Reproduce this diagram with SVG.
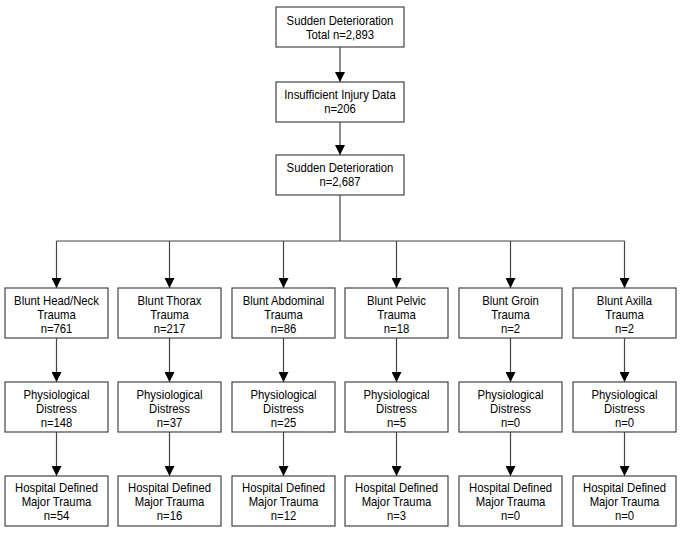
<svg xmlns="http://www.w3.org/2000/svg" width="685" height="534" viewBox="0 0 685 534">
<defs>
<marker id="ah" markerWidth="10" markerHeight="10" refX="10" refY="5" orient="auto" markerUnits="userSpaceOnUse">
<path d="M0,0 L10,5 L0,10 Z" fill="#000"/>
</marker>
<style>
.b{fill:#fff;stroke:#444;stroke-width:1.2}
.t{font-family:"Liberation Sans",Arial,sans-serif;font-size:13px;fill:#000;text-anchor:middle}
.c{fill:none;stroke:#444;stroke-width:1.2}
.a{marker-end:url(#ah)}
</style>
</defs>
<rect width="685" height="534" fill="#fff"/>
<g id="connectors">
<line class="c a" x1="340" y1="47" x2="340" y2="82"/>
<line class="c a" x1="340" y1="122" x2="340" y2="155"/>
<polyline class="c" points="340,195 340,241"/>
<line class="c" x1="56.5" y1="241" x2="624.5" y2="241"/>
<line class="c a" x1="56.5" y1="241" x2="56.5" y2="288"/>
<line class="c a" x1="169.5" y1="241" x2="169.5" y2="288"/>
<line class="c a" x1="283.5" y1="241" x2="283.5" y2="288"/>
<line class="c a" x1="396.5" y1="241" x2="396.5" y2="288"/>
<line class="c a" x1="510.5" y1="241" x2="510.5" y2="288"/>
<line class="c a" x1="624.5" y1="241" x2="624.5" y2="288"/>
<line class="c a" x1="56.5" y1="338" x2="56.5" y2="382"/>
<line class="c a" x1="169.5" y1="338" x2="169.5" y2="382"/>
<line class="c a" x1="283.5" y1="338" x2="283.5" y2="382"/>
<line class="c a" x1="396.5" y1="338" x2="396.5" y2="382"/>
<line class="c a" x1="510.5" y1="338" x2="510.5" y2="382"/>
<line class="c a" x1="624.5" y1="338" x2="624.5" y2="382"/>
<line class="c a" x1="56.5" y1="432" x2="56.5" y2="476"/>
<line class="c a" x1="169.5" y1="432" x2="169.5" y2="476"/>
<line class="c a" x1="283.5" y1="432" x2="283.5" y2="476"/>
<line class="c a" x1="396.5" y1="432" x2="396.5" y2="476"/>
<line class="c a" x1="510.5" y1="432" x2="510.5" y2="476"/>
<line class="c a" x1="624.5" y1="432" x2="624.5" y2="476"/>
</g>
<g id="top1"><rect class="b" x="276" y="7" width="128" height="40"/><g transform="translate(340,0) scale(0.87,1)"><text class="t" x="0" y="25">Sudden Deterioration</text><text class="t" x="0" y="39">Total n=2,893</text></g></g>
<g id="top2"><rect class="b" x="276" y="82" width="128" height="40"/><g transform="translate(340,0) scale(0.87,1)"><text class="t" x="0" y="99">Insufficient Injury Data</text><text class="t" x="0" y="113">n=206</text></g></g>
<g id="top3"><rect class="b" x="276" y="155" width="128" height="40"/><g transform="translate(340,0) scale(0.87,1)"><text class="t" x="0" y="172">Sudden Deterioration</text><text class="t" x="0" y="186">n=2,687</text></g></g>

<g id="r1c1"><rect class="b" x="5" y="288" width="103" height="50"/><g transform="translate(56.5,0) scale(0.87,1)"><text class="t" x="0" y="305">Blunt Head/Neck</text><text class="t" x="0" y="319">Trauma</text><text class="t" x="0" y="333">n=761</text></g></g>
<g id="r1c2"><rect class="b" x="118" y="288" width="103" height="50"/><g transform="translate(169.5,0) scale(0.87,1)"><text class="t" x="0" y="305">Blunt Thorax</text><text class="t" x="0" y="319">Trauma</text><text class="t" x="0" y="333">n=217</text></g></g>
<g id="r1c3"><rect class="b" x="232" y="288" width="103" height="50"/><g transform="translate(283.5,0) scale(0.87,1)"><text class="t" x="0" y="305">Blunt Abdominal</text><text class="t" x="0" y="319">Trauma</text><text class="t" x="0" y="333">n=86</text></g></g>
<g id="r1c4"><rect class="b" x="345" y="288" width="103" height="50"/><g transform="translate(396.5,0) scale(0.87,1)"><text class="t" x="0" y="305">Blunt Pelvic</text><text class="t" x="0" y="319">Trauma</text><text class="t" x="0" y="333">n=18</text></g></g>
<g id="r1c5"><rect class="b" x="459" y="288" width="103" height="50"/><g transform="translate(510.5,0) scale(0.87,1)"><text class="t" x="0" y="305">Blunt Groin</text><text class="t" x="0" y="319">Trauma</text><text class="t" x="0" y="333">n=2</text></g></g>
<g id="r1c6"><rect class="b" x="573" y="288" width="103" height="50"/><g transform="translate(624.5,0) scale(0.87,1)"><text class="t" x="0" y="305">Blunt Axilla</text><text class="t" x="0" y="319">Trauma</text><text class="t" x="0" y="333">n=2</text></g></g>

<g id="r2c1"><rect class="b" x="5" y="382" width="103" height="50"/><g transform="translate(56.5,0) scale(0.87,1)"><text class="t" x="0" y="399">Physiological</text><text class="t" x="0" y="413">Distress</text><text class="t" x="0" y="427">n=148</text></g></g>
<g id="r2c2"><rect class="b" x="118" y="382" width="103" height="50"/><g transform="translate(169.5,0) scale(0.87,1)"><text class="t" x="0" y="399">Physiological</text><text class="t" x="0" y="413">Distress</text><text class="t" x="0" y="427">n=37</text></g></g>
<g id="r2c3"><rect class="b" x="232" y="382" width="103" height="50"/><g transform="translate(283.5,0) scale(0.87,1)"><text class="t" x="0" y="399">Physiological</text><text class="t" x="0" y="413">Distress</text><text class="t" x="0" y="427">n=25</text></g></g>
<g id="r2c4"><rect class="b" x="345" y="382" width="103" height="50"/><g transform="translate(396.5,0) scale(0.87,1)"><text class="t" x="0" y="399">Physiological</text><text class="t" x="0" y="413">Distress</text><text class="t" x="0" y="427">n=5</text></g></g>
<g id="r2c5"><rect class="b" x="459" y="382" width="103" height="50"/><g transform="translate(510.5,0) scale(0.87,1)"><text class="t" x="0" y="399">Physiological</text><text class="t" x="0" y="413">Distress</text><text class="t" x="0" y="427">n=0</text></g></g>
<g id="r2c6"><rect class="b" x="573" y="382" width="103" height="50"/><g transform="translate(624.5,0) scale(0.87,1)"><text class="t" x="0" y="399">Physiological</text><text class="t" x="0" y="413">Distress</text><text class="t" x="0" y="427">n=0</text></g></g>

<g id="r3c1"><rect class="b" x="5" y="476" width="103" height="50"/><g transform="translate(56.5,0) scale(0.87,1)"><text class="t" x="0" y="492">Hospital Defined</text><text class="t" x="0" y="506">Major Trauma</text><text class="t" x="0" y="520">n=54</text></g></g>
<g id="r3c2"><rect class="b" x="118" y="476" width="103" height="50"/><g transform="translate(169.5,0) scale(0.87,1)"><text class="t" x="0" y="492">Hospital Defined</text><text class="t" x="0" y="506">Major Trauma</text><text class="t" x="0" y="520">n=16</text></g></g>
<g id="r3c3"><rect class="b" x="232" y="476" width="103" height="50"/><g transform="translate(283.5,0) scale(0.87,1)"><text class="t" x="0" y="492">Hospital Defined</text><text class="t" x="0" y="506">Major Trauma</text><text class="t" x="0" y="520">n=12</text></g></g>
<g id="r3c4"><rect class="b" x="345" y="476" width="103" height="50"/><g transform="translate(396.5,0) scale(0.87,1)"><text class="t" x="0" y="492">Hospital Defined</text><text class="t" x="0" y="506">Major Trauma</text><text class="t" x="0" y="520">n=3</text></g></g>
<g id="r3c5"><rect class="b" x="459" y="476" width="103" height="50"/><g transform="translate(510.5,0) scale(0.87,1)"><text class="t" x="0" y="492">Hospital Defined</text><text class="t" x="0" y="506">Major Trauma</text><text class="t" x="0" y="520">n=0</text></g></g>
<g id="r3c6"><rect class="b" x="573" y="476" width="103" height="50"/><g transform="translate(624.5,0) scale(0.87,1)"><text class="t" x="0" y="492">Hospital Defined</text><text class="t" x="0" y="506">Major Trauma</text><text class="t" x="0" y="520">n=0</text></g></g>
</svg>
